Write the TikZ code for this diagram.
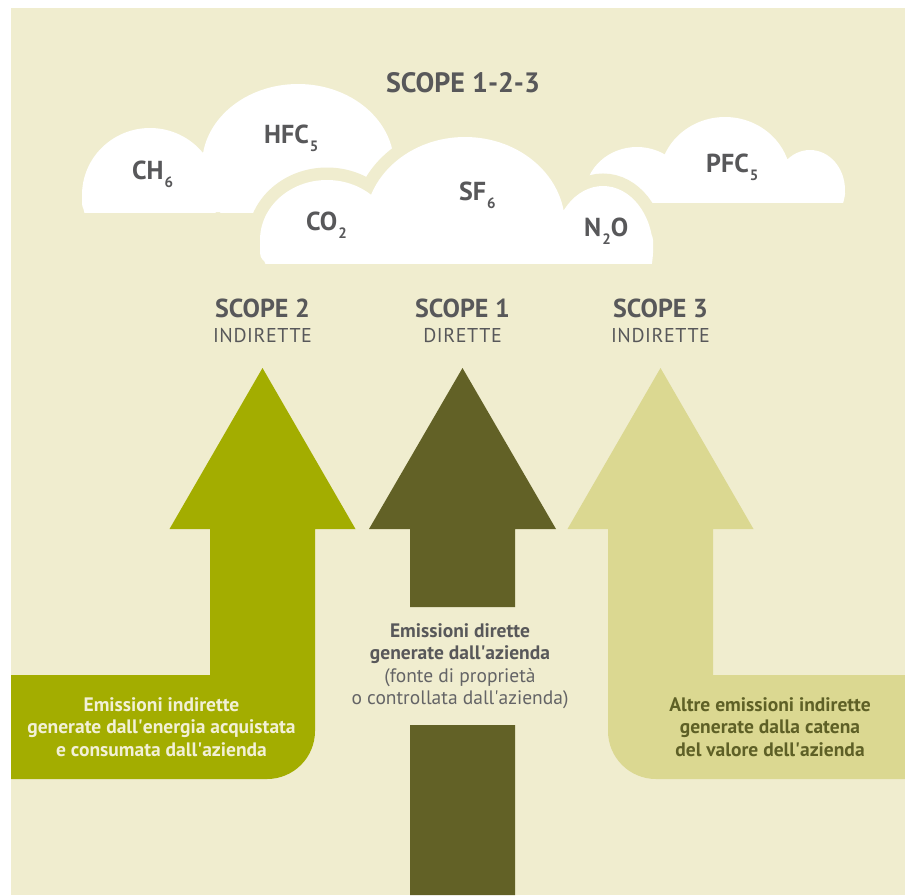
\documentclass[tikz,border=0pt]{standalone}
\usepackage{fontspec}
\setmainfont{PT Sans}
\newfontfamily\spacedfont[LetterSpace=3]{PT Sans}
\definecolor{bgcream}{HTML}{F0EDCF}
\definecolor{olivetwo}{HTML}{A3AD00}
\definecolor{oliveone}{HTML}{626126}
\definecolor{olivethree}{HTML}{DBD891}
\definecolor{txtgrey}{HTML}{58585A}
\definecolor{txtlight}{HTML}{646466}
\definecolor{txtolive}{HTML}{5E6026}
\definecolor{txtcream}{HTML}{F2F0D6}
\newcommand\gsub[1]{\kern1pt\raisebox{-8pt}{\fontsize{15}{15}\selectfont #1}}
\newcommand\apos{\textquotesingle}
\begin{document}
\begin{tikzpicture}[x=1pt,y=-1pt,
	gas/.style={anchor=base west,inner sep=0pt,text=txtgrey,font=\fontsize{26}{26}\selectfont\bfseries},
	scopehead/.style={anchor=base,inner sep=0pt,text=txtgrey,font=\fontsize{26}{26}\selectfont\bfseries},
	scopesub/.style={anchor=base,inner sep=0pt,text=txtgrey,font=\fontsize{20}{20}\spacedfont},
	infotext/.style={anchor=north,inner sep=0pt,align=center,font=\fontsize{19.5}{22.5}\selectfont\bfseries},
	cloudgap/.style={draw=bgcream,line width=25pt}]
	\useasboundingbox (0,0) rectangle (905,895);
	\fill[white] (0,0) rectangle (905,895);
	\fill[bgcream] (11,8) rectangle (905,895);
	\begin{scope}
		\clip (0,0) rectangle (905,212);
		\fill[white] (150,195) ellipse[x radius=68pt,y radius=67pt]
			(298,165) ellipse[x radius=96pt,y radius=81pt]
			(445,180) ellipse[x radius=60pt,y radius=48pt];
		\fill[white,rounded corners=8pt] (82,190) rectangle (450,212);
	\end{scope}
	\begin{scope}
		\clip (0,0) rectangle (905,202);
		\fill[white] (637,195) ellipse[x radius=52pt,y radius=48pt]
			(725,180) ellipse[x radius=66pt,y radius=63pt]
			(810,190) ellipse[x radius=35pt,y radius=40pt];
		\fill[white,rounded corners=8pt] (600,185) rectangle (845,202);
	\end{scope}
	\path[cloudgap] (327,240) ellipse[x radius=67pt,y radius=60pt]
		(465,225) ellipse[x radius=100pt,y radius=88pt]
		(603,250) ellipse[x radius=50pt,y radius=64pt];
	\path[cloudgap,rounded corners=10pt] (260,230) rectangle (653,263);
	\begin{scope}
		\clip (0,0) rectangle (905,263);
		\fill[white] (327,240) ellipse[x radius=67pt,y radius=60pt]
			(465,225) ellipse[x radius=100pt,y radius=88pt]
			(603,250) ellipse[x radius=50pt,y radius=64pt];
		\fill[white,rounded corners=10pt] (260,230) rectangle (653,263);
	\end{scope}
	\node[anchor=base,inner sep=0pt,text=txtgrey,font=\fontsize{28}{28}\selectfont\bfseries] (title) at (463,92) {SCOPE 1-2-3};
	\node[gas] (ch) at (132,179) {CH\gsub{6}};
	\node[gas] (hfc) at (264,143) {HFC\gsub{5}};
	\node[gas] (co) at (306,230) {CO\gsub{2}};
	\node[gas] (sf) at (459,200) {SF\gsub{6}};
	\node[gas] (no) at (584,236) {N\gsub{2}O};
	\node[gas] (pfc) at (706,172) {PFC\gsub{5}};
	\fill[olivetwo] (262.5,368) -- (355.5,529) -- (315,529) -- (315,731) arc[start angle=0,end angle=-90,radius=48pt]
		-- (11,779) -- (11,675) -- (210,675) -- (210,529) -- (169.5,529) -- cycle;
	\fill[oliveone] (462.5,368) -- (556,529) -- (515,529) -- (515,607) -- (410,607) -- (410,529) -- (369,529) -- cycle
		(410,725) rectangle (515,895);
	\fill[olivethree] (660.5,368) -- (753.5,529) -- (713,529) -- (713,675) -- (905,675) -- (905,779)
		-- (656,779) arc[start angle=270,end angle=180,radius=48pt] -- (608,529) -- (567.5,529) -- cycle;
	\node[scopehead] (scope2) at (262.5,317) {SCOPE 2};
	\node[scopesub] (scope2sub) at (262.5,342) {INDIRETTE};
	\node[scopehead] (scope1) at (462.5,317) {SCOPE 1};
	\node[scopesub] (scope1sub) at (462.5,342) {DIRETTE};
	\node[scopehead] (scope3) at (660.5,317) {SCOPE 3};
	\node[scopesub] (scope3sub) at (660.5,342) {INDIRETTE};
	\node[infotext,text=txtcream] (info2) at (161.5,697) {Emissioni indirette\\generate dall\apos energia acquistata\\e consumata dall\apos azienda};
	\node[infotext,text=txtgrey] (info1) at (460,623) {Emissioni dirette\\generate dall\apos azienda\\{\mdseries\color{txtlight}(fonte di proprietà}\\{\mdseries\color{txtlight}o controllata dall\apos azienda)}};
	\node[infotext,text=txtolive] (info3) at (770,697) {Altre emissioni indirette\\generate dalla catena\\del valore dell\apos azienda};
\end{tikzpicture}
\end{document}
